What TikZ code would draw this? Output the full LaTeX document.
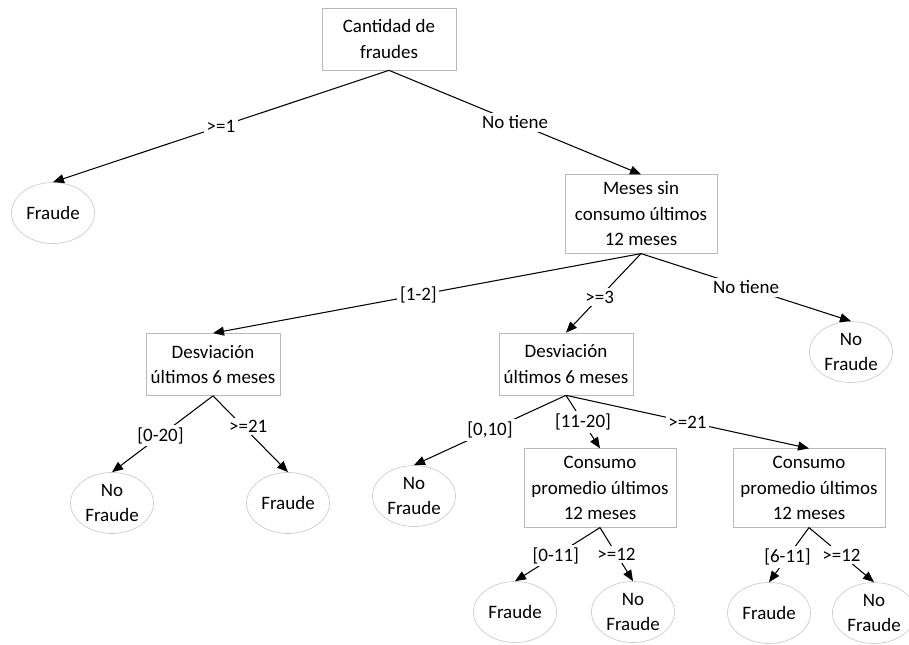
\documentclass[tikz,border=0pt]{standalone}
\usepackage{fontspec}
\setmainfont{Carlito}
\usetikzlibrary{shapes.geometric,arrows.meta}

\tikzset{
    pregunta/.style={draw=gray!55, rectangle, align=center, inner sep=2pt,
        minimum width=2.68cm, minimum height=1.24cm},
    pregunta3/.style={pregunta, minimum width=3.04cm, minimum height=1.57cm},
    hoja/.style={draw=gray!40, ellipse, align=center, inner sep=0pt,
        minimum width=1.66cm, minimum height=1.22cm},
    rama/.style={-{Triangle[length=2.2mm,width=1.8mm]}, line width=0.6pt},
    etiq/.style={fill=white, inner sep=1.5pt}
}

\begin{document}
\begin{tikzpicture}[font=\fontsize{10.8}{14.5}\selectfont]
    \useasboundingbox (0,0) rectangle (18.18,-12.9);

    % Nodes
    \node[pregunta] (cant) at (7.78,-0.78) {Cantidad de\\fraudes};
    \node[hoja] (fr1) at (1.06,-4.26) {Fraude};
    \node[pregunta3] (meses) at (12.82,-4.28) {Meses sin\\consumo últimos\\12 meses};

    \node[pregunta] (desvA) at (4.26,-7.29) {Desviación\\últimos 6 meses};
    \node[pregunta] (desvB) at (11.32,-7.28) {Desviación\\últimos 6 meses};
    \node[hoja] (nf1) at (17.02,-7.04) {No\\Fraude};

    \node[hoja] (nfA) at (2.24,-10.06) {No\\Fraude};
    \node[hoja] (frA) at (5.76,-10.06) {Fraude};
    \node[hoja] (nfB) at (8.28,-9.92) {No\\Fraude};
    \node[pregunta3] (consA) at (12.0,-9.76) {Consumo\\promedio últimos\\12 meses};
    \node[pregunta3] (consB) at (16.18,-9.76) {Consumo\\promedio últimos\\12 meses};

    \node[hoja] (frC) at (10.30,-12.24) {Fraude};
    \node[hoja] (nfC) at (12.66,-12.24) {No\\Fraude};
    \node[hoja] (frD) at (15.38,-12.26) {Fraude};
    \node[hoja] (nfD) at (17.48,-12.26) {No\\Fraude};

    % Branches
    \draw[rama] (cant.south) -- node[etiq, pos=0.5] {>=1} (fr1.north);
    \draw[rama] (cant.south) -- node[etiq, pos=0.5] {No tiene} (meses.north);

    \draw[rama] (meses.south) -- node[etiq, pos=0.52] {[1-2]} (desvA.north);
    \draw[rama] (meses.south) -- node[etiq, pos=0.55] {>=3} (desvB.north);
    \draw[rama] (meses.south) -- node[etiq, pos=0.5] {No tiene} (nf1.north);

    \draw[rama] (desvA.south) -- node[etiq, pos=0.52] {[0-20]} (nfA.north);
    \draw[rama] (desvA.south) -- node[etiq, pos=0.4, xshift=3pt] {>=21} (frA.north);

    \draw[rama] (desvB.south) -- node[etiq, pos=0.5] {[0,10]} (nfB.north);
    \draw[rama] (desvB.south) -- node[etiq, pos=0.5] {[11-20]} (consA.north);
    \draw[rama] (desvB.south) -- node[etiq, pos=0.5] {>=21} (consB.north);

    \draw[rama] (consA.south) -- node[etiq, pos=0.52] {[0-11]} (frC.north);
    \draw[rama] (consA.south) -- node[etiq, pos=0.5] {>=12} (nfC.north);
    \draw[rama] (consB.south) -- node[etiq, pos=0.54] {[6-11]} (frD.north);
    \draw[rama] (consB.south) -- node[etiq, pos=0.5] {>=12} (nfD.north);
\end{tikzpicture}
\end{document}
